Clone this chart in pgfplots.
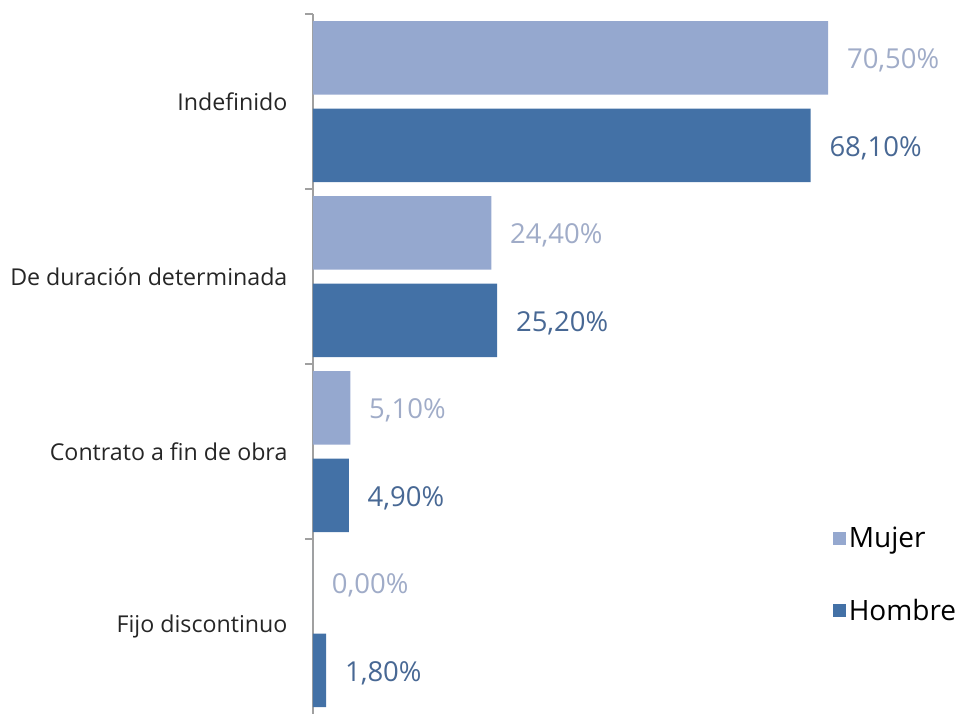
\documentclass[border=0pt]{standalone}
\usepackage{fontspec}
\setmainfont{Open Sans}
\usepackage{pgfplots}
\pgfplotsset{compat=1.18}

\definecolor{mujer}{RGB}{149,168,207}
\definecolor{hombre}{RGB}{67,113,166}
\definecolor{mujertxt}{RGB}{160,172,200}
\definecolor{hombretxt}{RGB}{72,104,148}
\definecolor{axisgray}{RGB}{160,160,160}

\begin{document}
\begin{tikzpicture}
\begin{axis}[
    xbar, scale only axis, clip=false,
    width=482.25pt, height=525pt,
    xmin=0, xmax=88,
    ymin=-0.5, ymax=3.5, y dir=reverse,
    axis x line=none, axis y line*=left,
    y axis line style={axisgray, line width=0.9pt},
    tick align=outside,
    ytick={0,1,2,3},
    yticklabels={Indefinido, De duración determinada, Contrato a fin de obra, Fijo discontinuo},
    major tick length=0pt,
    extra y ticks={-0.5,0.5,1.5,2.5},
    extra y tick labels={},
    extra y tick style={major tick length=6pt, tick style={draw=axisgray, line width=0.9pt}},
    yticklabel style={font=\fontsize{17.4}{20}\selectfont, text=black!85, inner sep=0pt, xshift=-19pt},
    bar width=0.42,
    point meta=x,
    nodes near coords={\pgfmathprintnumber[fixed,fixed zerofill,precision=2,use comma,assume math mode=true]{\pgfplotspointmeta}\%},
    nodes near coords align=horizontal,
    every node near coord/.append style={font=\fontsize{20.6}{24}\selectfont, inner sep=0pt, xshift=14pt, yshift=-2pt},
    legend style={at={(0.808,0.199)}, anchor=west, draw=none, fill=none, inner sep=0pt,
        font=\fontsize{21}{25}\selectfont, row sep=33pt},
    legend cell align=left,
    legend image code/.code={\fill[#1] (0pt,-5pt) rectangle (10pt,5pt);},
]
\addplot[fill=mujer, draw=none, bar shift=-0.25,
    every node near coord/.append style={text=mujertxt}]
    coordinates {(70.5,0) (24.4,1) (5.1,2) (0,3)};
\addplot[fill=hombre, draw=none, bar shift=0.25,
    every node near coord/.append style={text=hombretxt}]
    coordinates {(68.1,0) (25.2,1) (4.9,2) (1.8,3)};
\legend{Mujer, Hombre}
\coordinate (O) at (axis description cs:0,0);
\end{axis}
\path[use as bounding box] ([xshift=-234.75pt,yshift=2.25pt]O) rectangle ([xshift=485.25pt,yshift=535.5pt]O);
\end{tikzpicture}
\end{document}
